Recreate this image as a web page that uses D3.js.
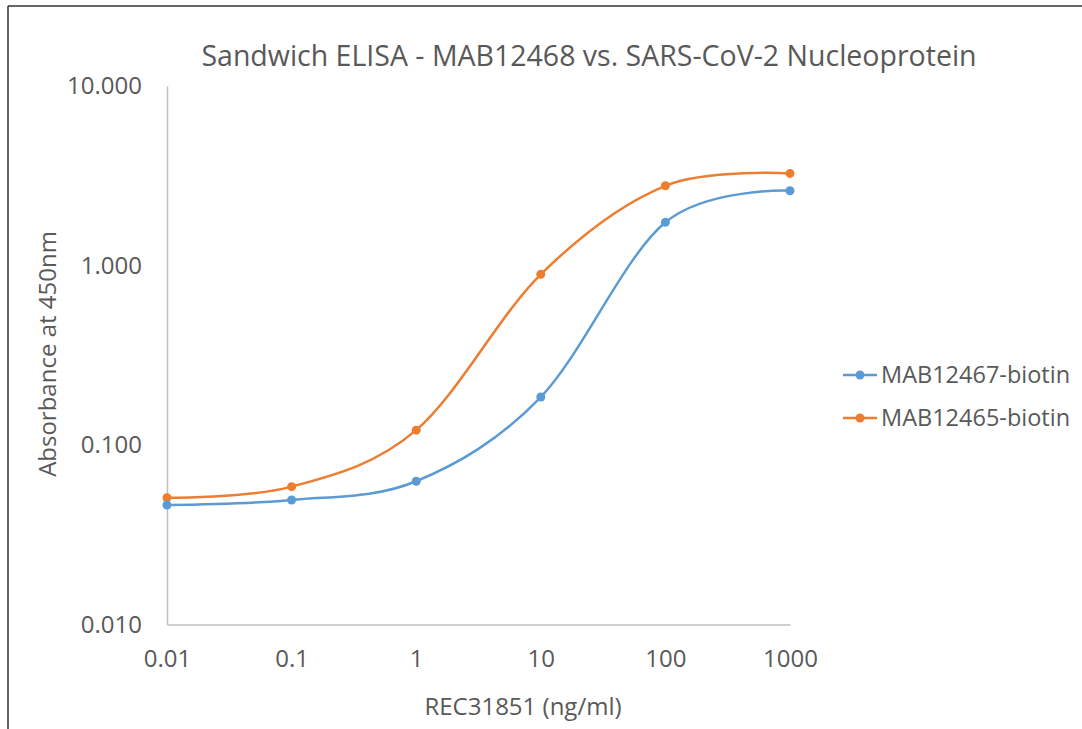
<!DOCTYPE html>
<html>
<head>
<meta charset="utf-8">
<script src="https://d3js.org/d3.v7.min.js"></script>
<style>
    body { margin: 0; background: #fff; }
    text { font-family: "Open Sans", sans-serif; fill: #595959; }
</style>
</head>
<body>
<div id="chart"></div>
<script>
var w = 1082; // Set the width
var h = 729; // Set the height

// Chart values
var concentrations = [0.01, 0.1, 1, 10, 100, 1000];
var mab12467 = [0.0463, 0.0494, 0.0628, 0.185, 1.74, 2.61];
var mab12465 = [0.0508, 0.0586, 0.121, 0.893, 2.78, 3.26];
var seriesNames = ["MAB12467-biotin", "MAB12465-biotin"];
var seriesColors = ["#5B9BD5", "#ED7D31"];
var yTicks = [0.01, 0.1, 1, 10];
var xTicks = [0.01, 0.1, 1, 10, 100, 1000];

var xScale = d3.scaleLog().domain([0.01, 1000]).range([167, 790]);
var yScale = d3.scaleLog().domain([0.01, 10]).range([624.5, 86]);

var svg = d3.select("#chart")
    .append("svg")
    .attr("width", w)
    .attr("height", h);

// Outer frame (top and left edges visible)
svg.append("line")
    .attr("x1", 8).attr("y1", 6).attr("x2", w).attr("y2", 6)
    .attr("stroke", "#333").attr("stroke-width", 1.5);
svg.append("line")
    .attr("x1", 8).attr("y1", 6).attr("x2", 8).attr("y2", h)
    .attr("stroke", "#333").attr("stroke-width", 1.5);

// Title
svg.append("text")
    .attr("x", 589)
    .attr("y", 66)
    .attr("text-anchor", "middle")
    .style("font-size", "28.5px")
    .text("Sandwich ELISA - MAB12468 vs. SARS-CoV-2 Nucleoprotein");

// Y axis
var yAxis = d3.axisLeft(yScale)
    .tickValues(yTicks)
    .tickSize(0)
    .tickPadding(25)
    .tickFormat(d3.format(".3f"));
var gy = svg.append("g")
    .attr("transform", "translate(" + xScale.range()[0] + ",0)")
    .call(yAxis);
gy.select(".domain").attr("stroke", "#bfbfbf").attr("stroke-width", 1.5);
gy.selectAll("text").style("font-size", "24px").attr("fill", "#595959");

// X axis
var xAxis = d3.axisBottom(xScale)
    .tickValues(xTicks)
    .tickSize(0)
    .tickPadding(25)
    .tickFormat(function(d) { return d < 1 ? String(d) : d3.format("d")(d); });
var gx = svg.append("g")
    .attr("transform", "translate(0," + yScale.range()[0] + ")")
    .call(xAxis);
gx.select(".domain").attr("stroke", "#bfbfbf").attr("stroke-width", 1.5);
gx.selectAll("text").style("font-size", "24px").attr("fill", "#595959");

// Axis labels
svg.append("text")
    .attr("x", 523)
    .attr("y", 715)
    .attr("text-anchor", "middle")
    .style("font-size", "24px")
    .text("REC31851 (ng/ml)");

svg.append("text")
    .attr("text-anchor", "middle")
    .attr("transform", "rotate(-90)")
    .attr("x", -354)
    .attr("y", 56)
    .style("font-size", "24px")
    .text("Absorbance at 450nm");

// Series lines and markers
var line = d3.line()
    .x(function(d) { return xScale(d.x); })
    .y(function(d) { return yScale(d.y); })
    .curve(d3.curveCatmullRom.alpha(0));

[mab12465, mab12467].forEach(function(values) {
    var i = values === mab12467 ? 0 : 1;
    var pts = concentrations.map(function(c, j) { return { x: c, y: values[j] }; });

    svg.append("path")
        .datum(pts)
        .attr("fill", "none")
        .attr("stroke", seriesColors[i])
        .attr("stroke-width", 2.5)
        .attr("d", line);

    svg.selectAll(null)
        .data(pts)
        .enter()
        .append("circle")
        .attr("cx", function(d) { return xScale(d.x); })
        .attr("cy", function(d) { return yScale(d.y); })
        .attr("r", 4.5)
        .attr("fill", seriesColors[i]);
});

// Legend
var legend = svg.append("g").attr("transform", "translate(843, 375)");
seriesNames.forEach(function(name, i) {
    var g = legend.append("g").attr("transform", "translate(0," + (i * 43) + ")");
    g.append("line")
        .attr("x1", 0).attr("x2", 34)
        .attr("stroke", seriesColors[i])
        .attr("stroke-width", 2.5);
    g.append("circle")
        .attr("cx", 17).attr("r", 4.5)
        .attr("fill", seriesColors[i]);
    g.append("text")
        .attr("x", 38)
        .attr("dy", "0.35em")
        .style("font-size", "23.5px")
        .text(name);
});
</script>
</body>
</html>
